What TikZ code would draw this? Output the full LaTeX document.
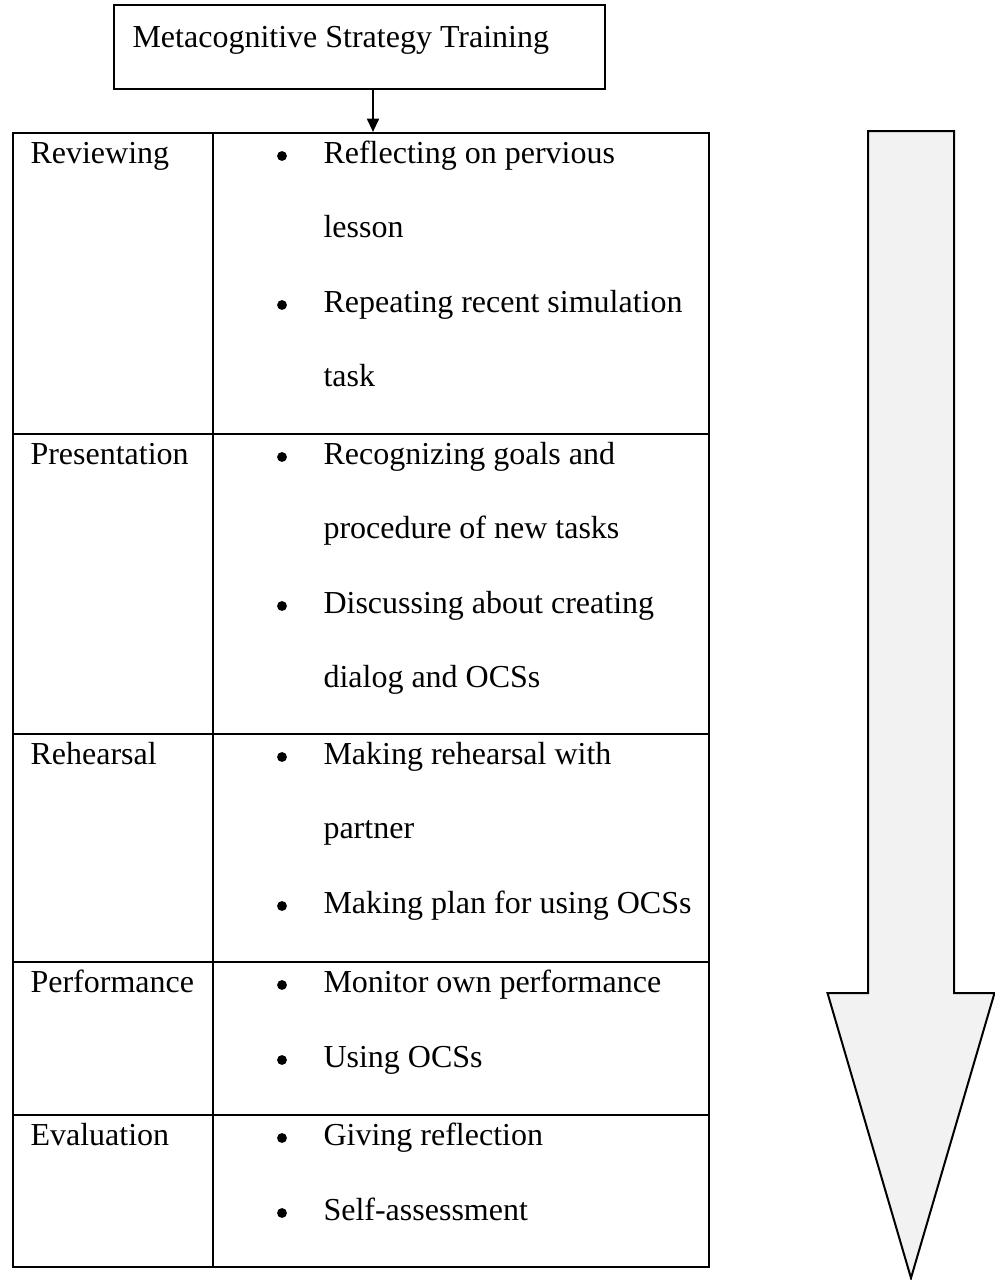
\documentclass[tikz,border=0pt]{standalone}
\usepackage{fontspec}
\setmainfont{Liberation Serif}
\usetikzlibrary{arrows.meta,fit}
\definecolor{arrowfill}{RGB}{242,242,242}
\tikzset{
  frame/.style={draw=black, line width=0.75pt, inner sep=0pt},
  cell/.style={draw=black, line width=0.8pt, inner sep=0pt},
  txt/.style={anchor=base west, inner sep=0pt, font=\fontsize{12pt}{14pt}\selectfont},
  bulletdot/.style={circle, fill=black, inner sep=0pt, minimum size=3.7pt},
  link/.style={draw=black, line width=0.75pt, -{Triangle[length=5pt, width=4.5pt]}},
  bigarrow/.style={draw=black, line width=0.75pt, fill=arrowfill, line join=miter}
}
\begin{document}
\begin{tikzpicture}[x=0.375pt, y=-0.375pt]
\useasboundingbox (0,0) rectangle (995,1280);

% heading box
\node[frame, fit={(114,5) (605,89)}] (mst) {};
\node[txt] (msttext) at (132,47) {Metacognitive Strategy Training};

% table rows: label cell and content cell
\node[cell, fit={(13,133) (213,434)}] (r1l) {};
\node[cell, fit={(213,133) (709,434)}] (r1r) {};
\node[cell, fit={(13,434) (213,734)}] (r2l) {};
\node[cell, fit={(213,434) (709,734)}] (r2r) {};
\node[cell, fit={(13,734) (213,962)}] (r3l) {};
\node[cell, fit={(213,734) (709,962)}] (r3r) {};
\node[cell, fit={(13,962) (213,1115)}] (r4l) {};
\node[cell, fit={(213,962) (709,1115)}] (r4r) {};
\node[cell, fit={(13,1115) (213,1267)}] (r5l) {};
\node[cell, fit={(213,1115) (709,1267)}] (r5r) {};

% connector from heading to table
\coordinate (ax) at (373,0);
\draw[link] (mst.south -| ax) -- (r1r.north -| ax);

% Reviewing
\node[txt] (l1) at (30,163) {Reviewing};
\node[bulletdot] (b11) at (282,156) {};
\node[txt] (t11) at (323,163) {Reflecting on pervious};
\node[txt] (t12) at (323,237.5) {lesson};
\node[bulletdot] (b12) at (282,305) {};
\node[txt] (t13) at (323,312) {Repeating recent simulation};
\node[txt] (t14) at (323,386.5) {task};

% Presentation
\node[txt] (l2) at (30,464) {Presentation};
\node[bulletdot] (b21) at (282,457) {};
\node[txt] (t21) at (323,464) {Recognizing goals and};
\node[txt] (t22) at (323,538.5) {procedure of new tasks};
\node[bulletdot] (b22) at (282,606) {};
\node[txt] (t23) at (323,613) {Discussing about creating};
\node[txt] (t24) at (323,687.5) {dialog and OCSs};

% Rehearsal
\node[txt] (l3) at (30,764) {Rehearsal};
\node[bulletdot] (b31) at (282,757) {};
\node[txt] (t31) at (323,764) {Making rehearsal with};
\node[txt] (t32) at (323,838.5) {partner};
\node[bulletdot] (b32) at (282,906) {};
\node[txt] (t33) at (323,913) {Making plan for using OCSs};

% Performance
\node[txt] (l4) at (30,992) {Performance};
\node[bulletdot] (b41) at (282,985) {};
\node[txt] (t41) at (323,992) {Monitor own performance};
\node[bulletdot] (b42) at (282,1060) {};
\node[txt] (t42) at (323,1067) {Using OCSs};

% Evaluation
\node[txt] (l5) at (30,1145) {Evaluation};
\node[bulletdot] (b51) at (282,1138) {};
\node[txt] (t51) at (323,1145) {Giving reflection};
\node[bulletdot] (b52) at (282,1213) {};
\node[txt] (t52) at (323,1220) {Self-assessment};

% large downward block arrow
\draw[bigarrow] (868,131) -- (954,131) -- (954,993) -- (994.5,993)
  -- (911,1278) -- (827.5,993) -- (868,993) -- cycle;
\end{tikzpicture}
\end{document}
